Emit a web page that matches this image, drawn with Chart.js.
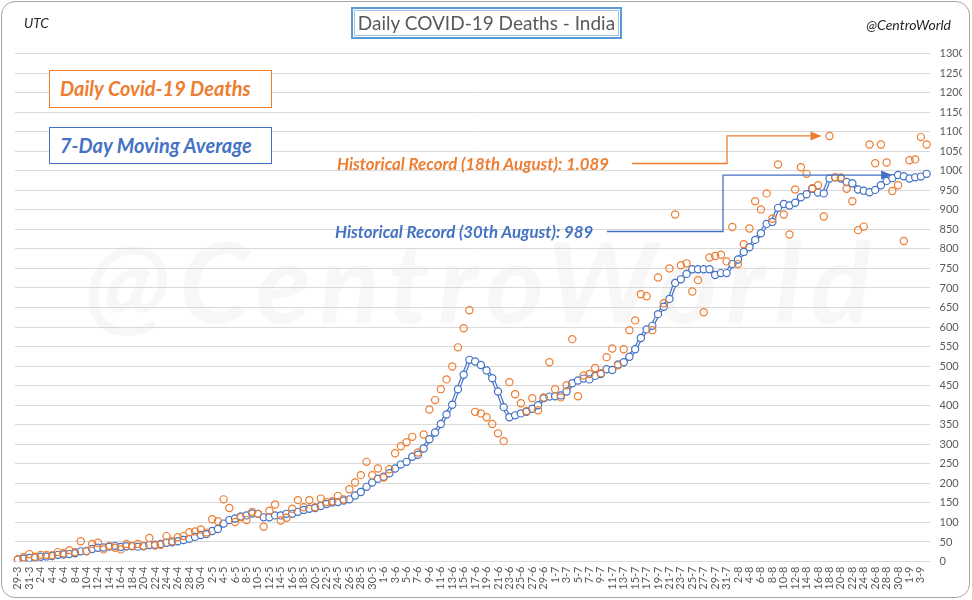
<!DOCTYPE html>
<html>
<head>
<meta charset="utf-8">
<script src="https://cdn.jsdelivr.net/npm/chart.js@4"></script>
<style>
  body { margin: 0; background: #fff; }
  #wrap { position: relative; width: 972px; height: 600px; background: #fff; overflow: hidden; font-family: Lato, "Open Sans", sans-serif; }
  #c { position: absolute; left: 0; top: 0; z-index: 1; }
  .frame { position: absolute; left: 1px; top: 1px; width: 967px; height: 595px; border: 1.5px solid #a6a6a6; border-radius: 14px; z-index: 3; pointer-events: none; }
  .wm { position: absolute; left: 84px; top: 212px; font-size: 112px; font-weight: bold; font-style: italic; color: #f7f7f7; letter-spacing: 9px; z-index: 0; white-space: nowrap; }
  .title { position: absolute; left: 351px; top: 7px; width: 267px; height: 28px; border: 2px solid #5b9bd5; box-shadow: inset 0 0 0 1px #fff, inset 0 0 0 2px #9dc3e6; text-align: center; line-height: 28px; font-size: 19px; color: #595959; z-index: 2; }
  .utc { position: absolute; left: 24px; top: 15px; font-size: 13.5px; font-style: italic; color: #262626; z-index: 2; }
  .cw { position: absolute; right: 21px; top: 16px; font-size: 14px; font-style: italic; color: #262626; z-index: 2; }
  .leg { position: absolute; left: 49px; padding-left: 10px; box-sizing: border-box; font-size: 20px; font-weight: bold; font-style: italic; z-index: 2; background: #fff; }
  .leg1 { top: 70px; height: 38px; line-height: 35px; width: 223px; border: 1.5px solid #ed7d31; color: #ed7d31; }
  .leg2 { top: 127px; height: 37px; line-height: 34px; width: 223px; border: 1.5px solid #4472c4; color: #4472c4; }
  .ann { position: absolute; font-size: 16.8px; font-weight: bold; font-style: italic; z-index: 2; white-space: nowrap; line-height: 20px; }
  .ann1 { left: 337px; top: 154px; color: #ed7d31; }
  .ann2 { left: 335px; top: 222px; color: #4472c4; }
</style>
</head>
<body>
<div id="wrap">
  <div class="wm">@CentroWorld</div>
  <canvas id="c" width="972" height="600"></canvas>
  <div class="frame"></div>
  <div class="title">Daily COVID-19 Deaths - India</div>
  <div class="utc">UTC</div>
  <div class="cw">@CentroWorld</div>
  <div class="leg leg1">Daily Covid-19 Deaths</div>
  <div class="leg leg2">7-Day Moving Average</div>
  <div class="ann ann1">Historical Record (18th August): 1.089</div>
  <div class="ann ann2">Historical Record (30th August): 989</div>
</div>
<script>
// Days, 29 March to 4 September
const days = [
  "29-3","30-3","31-3",
  "1-4","2-4","3-4","4-4","5-4","6-4","7-4","8-4","9-4","10-4","11-4","12-4","13-4","14-4","15-4",
  "16-4","17-4","18-4","19-4","20-4","21-4","22-4","23-4","24-4","25-4","26-4","27-4","28-4","29-4","30-4",
  "1-5","2-5","3-5","4-5","5-5","6-5","7-5","8-5","9-5","10-5","11-5","12-5","13-5","14-5","15-5","16-5",
  "17-5","18-5","19-5","20-5","21-5","22-5","23-5","24-5","25-5","26-5","27-5","28-5","29-5","30-5","31-5",
  "1-6","2-6","3-6","4-6","5-6","6-6","7-6","8-6","9-6","10-6","11-6","12-6","13-6","14-6","15-6",
  "16-6","17-6","18-6","19-6","20-6","21-6","22-6","23-6","24-6","25-6","26-6","27-6","28-6","29-6","30-6",
  "1-7","2-7","3-7","4-7","5-7","6-7","7-7","8-7","9-7","10-7","11-7","12-7","13-7","14-7","15-7","16-7",
  "17-7","18-7","19-7","20-7","21-7","22-7","23-7","24-7","25-7","26-7","27-7","28-7","29-7","30-7","31-7",
  "1-8","2-8","3-8","4-8","5-8","6-8","7-8","8-8","9-8","10-8","11-8","12-8","13-8","14-8","15-8","16-8",
  "17-8","18-8","19-8","20-8","21-8","22-8","23-8","24-8","25-8","26-8","27-8","28-8","29-8","30-8","31-8",
  "1-9","2-9","3-9","4-9"
];

// Daily deaths (orange markers)
const dailyDeaths = [
  6, 11, 19, 12, 17, 17, 16, 24, 21, 29, 24, 52, 26, 45, 48, 31, 40, 35, 31, 45,
  40, 45, 40, 60, 41, 43, 65, 52, 62, 65, 75, 77, 82, 74, 108, 103, 159, 137, 101, 113,
  106, 127, 122, 89, 130, 146, 105, 112, 135, 157, 139, 157, 139, 161, 152, 154, 168, 159, 185, 202,
  221, 255, 221, 238, 215, 236, 277, 295, 305, 319, 279, 325, 389, 413, 441, 466, 499, 548, 597, 643,
  383, 379, 369, 352, 328, 308, 459, 428, 405, 385, 418, 387, 420, 510, 441, 420, 451, 569, 423, 476,
  480, 495, 482, 523, 545, 502, 543, 592, 617, 684, 679, 592, 727, 661, 750, 888, 758, 763, 691, 720,
  638, 778, 782, 785, 768, 856, 761, 812, 852, 922, 901, 942, 877, 1016, 888, 837, 952, 1009, 992, 955,
  963, 883, 1089, 983, 983, 954, 922, 848, 857, 1067, 1019, 1067, 1021, 948, 963, 820, 1027, 1029, 1086, 1067
];

// 7-day moving average (blue line)
const movingAverage = [
  5, 7, 9, 10, 12, 13, 14, 17, 18, 19, 21, 26, 27, 32, 35, 36, 38, 40, 37, 39,
  39, 38, 39, 42, 43, 45, 48, 49, 52, 55, 58, 63, 68, 70, 78, 83, 97, 106, 110, 115,
  118, 123, 122, 113, 113, 118, 118, 122, 122, 127, 132, 135, 137, 142, 147, 151, 152, 156, 159, 169,
  178, 191, 202, 212, 217, 226, 238, 248, 255, 268, 273, 289, 313, 330, 352, 376, 401, 441, 478, 516,
  512, 503, 489, 469, 435, 395, 369, 374, 379, 383, 391, 400, 418, 422, 423, 425, 435, 456, 463, 468,
  466, 475, 480, 492, 490, 504, 510, 524, 543, 572, 594, 603, 633, 652, 672, 713, 722, 736, 748, 748,
  748, 748, 733, 738, 738, 761, 773, 792, 804, 823, 840, 864, 869, 905, 915, 911, 918, 932, 940, 954,
  944, 942, 980, 983, 980, 971, 968, 952, 949, 945, 951, 963, 974, 981, 989, 986, 980, 983, 985, 992
];

const ORANGE = "#ed7d31";
const BLUE = "#4472c4";
const GREY = "#595959";

const dailyRecordIdx = days.indexOf("18-8");
const avgRecordIdx = days.indexOf("30-8");

// elbow arrows from the record notes to their points
function drawElbow(ctx, color, x0, y0, xBend, xTip, yTip) {
  ctx.save();
  ctx.strokeStyle = color;
  ctx.fillStyle = color;
  ctx.lineWidth = 1.3;
  ctx.beginPath();
  ctx.moveTo(x0, y0);
  ctx.lineTo(xBend, y0);
  ctx.lineTo(xBend, yTip);
  ctx.lineTo(xTip - 9, yTip);
  ctx.stroke();
  ctx.beginPath();
  ctx.moveTo(xTip, yTip);
  ctx.lineTo(xTip - 11, yTip - 4.5);
  ctx.lineTo(xTip - 11, yTip + 4.5);
  ctx.closePath();
  ctx.fill();
  ctx.restore();
}

const recordArrows = {
  id: "recordArrows",
  afterDatasetsDraw(chart) {
    const { ctx, scales } = chart;
    const x = scales.x, y = scales.y;
    drawElbow(ctx, ORANGE, 632, 163.5, 727,
      x.getPixelForValue(dailyRecordIdx) - 8, y.getPixelForValue(dailyDeaths[dailyRecordIdx]));
    drawElbow(ctx, BLUE, 607, 231.5, 723,
      x.getPixelForValue(avgRecordIdx) - 6, y.getPixelForValue(movingAverage[avgRecordIdx]));
  }
};

new Chart(document.getElementById("c"), {
  type: "line",
  data: {
    labels: days,
    datasets: [
      {
        label: "Daily Covid-19 Deaths",
        data: dailyDeaths,
        showLine: false,
        pointRadius: 3.6,
        pointBorderWidth: 1.2,
        pointBorderColor: ORANGE,
        pointBackgroundColor: "rgba(255,255,255,0)"
      },
      {
        label: "7-Day Moving Average",
        data: movingAverage,
        borderColor: "#ffffff",
        borderWidth: 1.4,
        tension: 0,
        pointRadius: 3.6,
        pointBorderWidth: 1.2,
        pointBorderColor: BLUE,
        pointBackgroundColor: "#ffffff"
      },
      {
        label: "outline",
        data: movingAverage,
        borderColor: BLUE,
        borderWidth: 3.8,
        tension: 0,
        pointRadius: 0
      }
    ]
  },
  options: {
    responsive: false,
    animation: false,
    devicePixelRatio: 1,
    layout: { padding: { left: 15, right: 10, top: 53.5, bottom: 3 } },
    plugins: { legend: { display: false }, tooltip: { enabled: false } },
    scales: {
      x: {
        offset: true,
        grid: { display: false, drawTicks: false },
        border: { display: false },
        ticks: {
          autoSkip: false,
          minRotation: 90,
          maxRotation: 90,
          padding: 5,
          color: GREY,
          font: { family: "Lato", size: 11 },
          callback: (v, i) => (i % 2 === 0 ? days[i] : "")
        },
        afterFit: (s) => { s.height = 35.5; }
      },
      y: {
        position: "right",
        min: 0,
        max: 1300,
        grid: { color: "#d9d9d9", lineWidth: 1, drawTicks: false },
        border: { display: false },
        ticks: {
          stepSize: 25,
          padding: 10,
          color: GREY,
          font: { family: "Lato", size: 11 },
          callback: (v) => String(v)
        },
        afterFit: (s) => { s.width = 32.5; }
      }
    }
  },
  plugins: [recordArrows]
});
</script>
</body>
</html>
